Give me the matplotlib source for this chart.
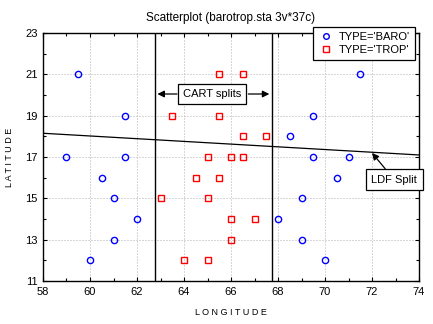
import matplotlib.pyplot as plt
from matplotlib.ticker import MultipleLocator

# data
baro_lon = [59.5, 61.5, 59, 61.5, 60.5, 61, 62, 61, 60,
            71.5, 69.5, 68.5, 69.5, 71, 70.5, 69, 68, 69, 70]
baro_lat = [21, 19, 17, 17, 16, 15, 14, 13, 12,
            21, 19, 18, 17, 17, 16, 15, 14, 13, 12]

trop_lon = [65.5, 66.5, 63.5, 65.5, 66.5, 67.5, 65, 66, 66.5,
            64.5, 65.5, 63, 65, 66, 67, 66, 64, 65]
trop_lat = [21, 21, 19, 19, 18, 18, 17, 17, 17,
            16, 16, 15, 15, 14, 14, 13, 12, 12]

cart_splits = [62.75, 67.75]
ldf_lon = [58, 74]
ldf_lat = [18.15, 17.1]

plt.rcParams['font.family'] = ['Liberation Sans', 'DejaVu Sans']
plt.rcParams['font.size'] = 8

fig = plt.figure(figsize=(4.33, 3.24), dpi=100)
ax = fig.add_axes([0.0993, 0.1327, 0.8684, 0.7653])

ax.plot(baro_lon, baro_lat, 'o', mfc='none', mec='#0000ff', ms=4.5, mew=1,
        label="TYPE='BARO'", zorder=3)
ax.plot(trop_lon, trop_lat, 's', mfc='none', mec='#ff0000', ms=4.5, mew=1,
        label="TYPE='TROP'", zorder=3)

for xs in cart_splits:
    ax.axvline(xs, color='black', lw=1, zorder=2)
ax.plot(ldf_lon, ldf_lat, color='black', lw=0.9, zorder=2)

ax.set_xlim(58, 74)
ax.set_ylim(11, 23)
ax.xaxis.set_major_locator(MultipleLocator(2))
ax.xaxis.set_minor_locator(MultipleLocator(1))
ax.set_yticks([11, 13, 15, 17, 19, 21, 23])
ax.yaxis.set_minor_locator(MultipleLocator(1))
ax.tick_params(which='both', direction='in', top=True, right=True,
               length=3, width=0.8, labelsize=8, pad=4)
ax.tick_params(which='minor', length=2)
ax.grid(True, which='major', color='#b0b0b0', linestyle=(0, (1, 2)), lw=0.72)
for s in ax.spines.values():
    s.set_linewidth(1)

ax.set_title('Scatterplot (barotrop.sta 3v*37c)', fontsize=8.5, pad=9)
ax.set_xlabel('L O N G I T U D E', fontsize=6.5, labelpad=8)
ax.set_ylabel('L A T I T U D E', fontsize=6.5, labelpad=8)

# CART splits box with two arrows
ax.text(65.2, 20.05, 'CART splits', ha='center', va='center', fontsize=8,
        bbox=dict(boxstyle='square,pad=0.42', fc='white', ec='black', lw=0.9),
        zorder=4)
ax.annotate('', xy=(cart_splits[0], 20.05), xytext=(63.82, 20.05),
            arrowprops=dict(arrowstyle='-|>', color='black', lw=0.9,
                            mutation_scale=10), zorder=4)
ax.annotate('', xy=(cart_splits[1], 20.05), xytext=(66.62, 20.05),
            arrowprops=dict(arrowstyle='-|>', color='black', lw=0.9,
                            mutation_scale=10), zorder=4)

# LDF split box
ax.annotate('LDF Split', xy=(72.0, 17.2), xytext=(72.95, 15.9),
            ha='center', va='center', fontsize=8,
            bbox=dict(boxstyle='square,pad=0.5', fc='white', ec='black', lw=0.9),
            arrowprops=dict(arrowstyle='-|>', color='black', lw=0.9,
                            mutation_scale=10, shrinkA=0, shrinkB=0),
            zorder=4)

leg = ax.legend(loc='upper right', bbox_to_anchor=(415 / 433, 1 - 27 / 324),
                bbox_transform=fig.transFigure, fontsize=8, fancybox=False,
                framealpha=1, edgecolor='black', borderaxespad=0,
                handletextpad=0.5, handlelength=1.4, borderpad=0.45,
                labelspacing=0.3, markerscale=0.9)
leg.get_frame().set_linewidth(0.9)
leg.set_zorder(5)

fig.savefig('out.png', dpi=100)
